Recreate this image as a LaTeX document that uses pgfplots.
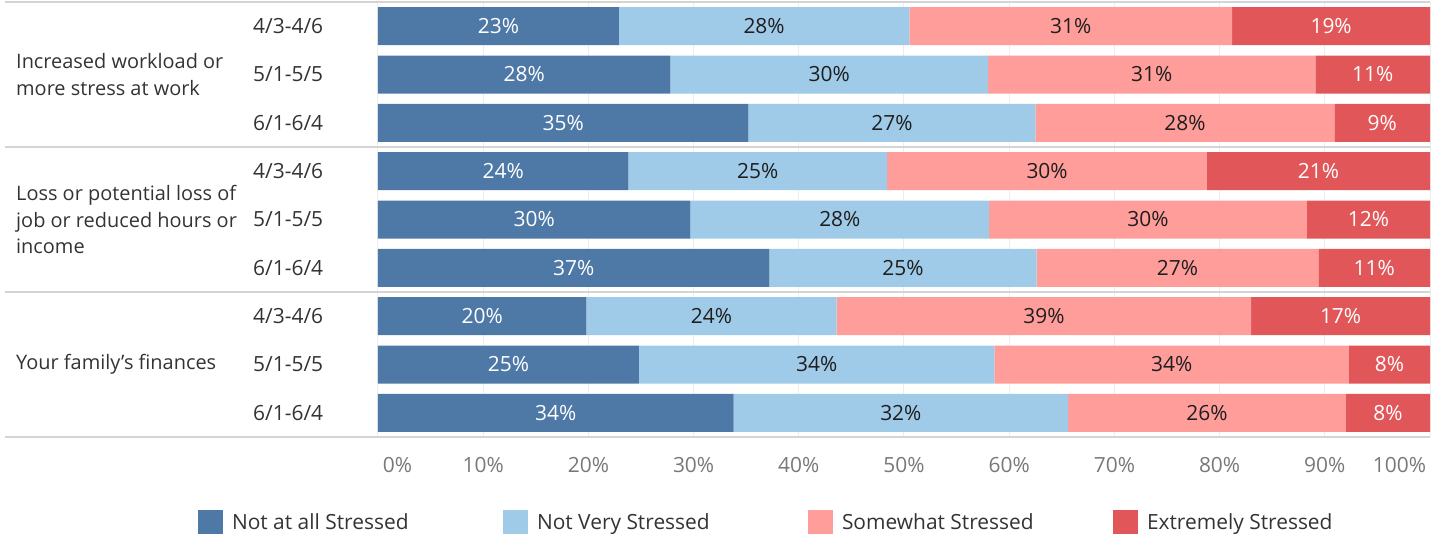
\documentclass[border=0pt]{standalone}
\usepackage{fontspec}
\setmainfont{Open Sans}
\usepackage{pgfplots}
\usepackage{pgfplotstable}
\pgfplotsset{compat=1.18}

\definecolor{notatall}{HTML}{4E79A7}
\definecolor{notvery}{HTML}{A0CBE8}
\definecolor{somewhat}{HTML}{FF9D9A}
\definecolor{extremely}{HTML}{E15759}
\definecolor{sepgray}{HTML}{D4D4D4}
\definecolor{gridgray}{HTML}{EDEDED}
\definecolor{ticktext}{HTML}{787878}
\definecolor{labeltext}{HTML}{333333}
\definecolor{bartext}{HTML}{1E1E1E}

% share of respondents (%) per stress level, rows top to bottom
\pgfplotstableread{
row a b c d
0 22.9 27.6 30.7 18.8
1 27.8 30.2 31.1 10.9
2 35.2 27.3 28.4 9.1
3 23.8 24.6 30.4 21.2
4 29.7 28.4 30.2 11.7
5 37.2 25.4 26.8 10.6
6 19.8 23.8 39.4 17.0
7 24.8 33.8 33.7 7.7
8 33.8 31.8 26.4 8.0
}\stress

% centre of each segment, for the value labels
\pgfplotstablecreatecol[create col/expr={\thisrow{a}/2}]{ma}\stress
\pgfplotstablecreatecol[create col/expr={\thisrow{a}+\thisrow{b}/2}]{mb}\stress
\pgfplotstablecreatecol[create col/expr={\thisrow{a}+\thisrow{b}+\thisrow{c}/2}]{mc}\stress
\pgfplotstablecreatecol[create col/expr={\thisrow{a}+\thisrow{b}+\thisrow{c}+\thisrow{d}/2}]{md}\stress

\pgfplotsset{
  stressframe/.style={
    scale only axis,
    width=1052bp, height=435bp,
    at={(0,0)}, anchor=south west,
    xmin=0, xmax=100,
    ymin=-0.5, ymax=8.5,
    y dir=reverse,
    clip=false,
  },
  seglabel/.style={
    only marks, mark=*, mark size=0pt,
    mark options={draw=none, fill=none},
    point meta=explicit,
    nodes near coords={\pgfmathprintnumber[fixed,precision=0,assume math mode=true]{\pgfplotspointmeta}\%},
    every node near coord/.append style={anchor=center, inner sep=0pt,
      text=#1, font=\fontsize{21}{25}\selectfont},
  },
}

\begin{document}
\begin{tikzpicture}
\path[use as bounding box] (-378bp,-100bp) rectangle (1064bp,437bp);

\begin{axis}[
  stressframe,
  xbar stacked,
  bar width=38bp,
  axis x line=bottom, axis y line=left,
  axis line style={draw=none},
  major tick length=0pt,
  xtick={0,10,...,100},
  xticklabels={\rlap{\hspace{5bp}0\%},10\%,20\%,30\%,40\%,50\%,60\%,70\%,80\%,90\%,\llap{100\%\hspace{4bp}}},
  xticklabel style={anchor=north, inner sep=0pt, yshift=-20bp,
    text=ticktext, font=\fontsize{21}{25}\selectfont},
  xmajorgrids,
  grid style={gridgray, line width=1bp},
  ytick={0,...,8},
  yticklabels={4/3-4/6,5/1-5/5,6/1-6/4,4/3-4/6,5/1-5/5,6/1-6/4,4/3-4/6,5/1-5/5,6/1-6/4},
  yticklabel style={anchor=west, inner sep=0pt, xshift=-125bp,
    text=labeltext, font=\fontsize{21}{25}\selectfont},
  legend columns=4,
  legend style={at={(-0.1711,-0.1950)}, anchor=west, draw=none, fill=none,
    inner sep=0pt, outer sep=0pt,
    nodes={inner sep=0pt, anchor=west, text=labeltext, font=\fontsize{21}{25}\selectfont},
    /tikz/every odd column/.append style={column sep=9bp}},
  legend image code/.code={\fill[#1] (0bp,-12bp) rectangle (25bp,12bp);},
]
\addplot[fill=notatall, draw=none] table[x=a, y=row]{\stress};
\addlegendentry{\makebox[271bp][l]{Not at all Stressed}}
\addplot[fill=notvery, draw=none] table[x=b, y=row]{\stress};
\addlegendentry{\makebox[271bp][l]{Not Very Stressed}}
\addplot[fill=somewhat, draw=none] table[x=c, y=row]{\stress};
\addlegendentry{\makebox[271bp][l]{Somewhat Stressed}}
\addplot[fill=extremely, draw=none] table[x=d, y=row]{\stress};
\addlegendentry{Extremely Stressed}

% group separators running under the row labels
\pgfplotsinvokeforeach{-0.5,2.5,5.5,8.5}{
  \draw[sepgray, line width=1.5bp] (axis cs:-35.46,#1) -- (axis cs:100,#1);
}

% group names
\node[anchor=west, inner sep=0pt, align=left, text=labeltext,
  font=\fontsize{20}{27}\selectfont] at (axis cs:-34.41,1)
  {Increased workload or\\more stress at work};
\node[anchor=west, inner sep=0pt, align=left, text=labeltext,
  font=\fontsize{20}{27}\selectfont] at (axis cs:-34.41,4)
  {Loss or potential loss of\\job or reduced hours or\\income};
\node[anchor=west, inner sep=0pt, align=left, text=labeltext,
  font=\fontsize{20}{27}\selectfont] at (axis cs:-34.41,7)
  {Your family’s finances};
\end{axis}

% value labels centred in each segment
\begin{axis}[stressframe, hide axis]
\addplot[seglabel=white] table[x=ma, y=row, meta=a]{\stress};
\addplot[seglabel=bartext] table[x=mb, y=row, meta=b]{\stress};
\addplot[seglabel=bartext] table[x=mc, y=row, meta=c]{\stress};
\addplot[seglabel=white] table[x=md, y=row, meta=d]{\stress};
\end{axis}
\end{tikzpicture}
\end{document}
